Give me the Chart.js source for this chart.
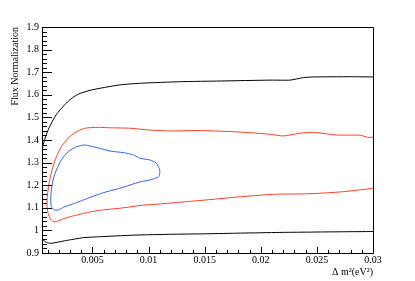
<!DOCTYPE html>
<html>
<head>
<meta charset="utf-8">
<script src="https://cdn.jsdelivr.net/npm/chart.js@4.4.0/dist/chart.umd.min.js"></script>
<style>
    html, body { margin: 0; padding: 0; background: #fff; }
    #wrap { width: 415px; height: 281px; }
</style>
</head>
<body>
<div id="wrap"><canvas id="fluxChart" width="415" height="281"></canvas></div>
<script>
/* Axis ticks */
const xTicks = [0.005, 0.01, 0.015, 0.02, 0.025, 0.03]
const xTickLabels = ['0.005', '0.01', '0.015', '0.02', '0.025', '0.03']
const yTicks = [0.9, 1, 1.1, 1.2, 1.3, 1.4, 1.5, 1.6, 1.7, 1.8, 1.9]
const yTickLabels = ['0.9', '1', '1.1', '1.2', '1.3', '1.4', '1.5', '1.6', '1.7', '1.8', '1.9']

/* Outer contour (black), upper branch right to left then lower branch */
const blackX = [0.0300, 0.0280, 0.0247, 0.0238, 0.0226, 0.0209, 0.0164, 0.01282, 0.00925, 0.00746,
    0.00568, 0.00479, 0.00389, 0.00345, 0.0030, 0.00255, 0.00211, 0.00175, 0.00148, 0.00104, 0.00068, 0.00044, 0.00014,
    0.00014, 0.00044, 0.00088, 0.00133, 0.00253, 0.00419, 0.00568, 0.00863, 0.0122, 0.0152,
    0.0182, 0.0217, 0.0273, 0.0300]
const blackY = [1.679, 1.680, 1.679, 1.676, 1.665, 1.665, 1.661, 1.658, 1.651, 1.644,
    1.629, 1.620, 1.606, 1.595, 1.579, 1.557, 1.533, 1.511, 1.488, 1.444, 1.392, 1.342, 1.289,
    0.988, 0.965, 0.947, 0.943, 0.954, 0.968, 0.972, 0.979, 0.983, 0.985,
    0.988, 0.991, 0.994, 0.995]

/* Middle contour (red) */
const redX = [0.0300, 0.0295, 0.0289, 0.0268, 0.0247, 0.0235, 0.0220, 0.0209, 0.0182, 0.0146,
    0.0119, 0.0101, 0.00836, 0.00657, 0.0055, 0.00431, 0.00342, 0.00282, 0.00222, 0.00178,
    0.00139, 0.00113, 0.00097, 0.00095, 0.00104, 0.00128, 0.00157, 0.00193, 0.00282, 0.00401,
    0.0055, 0.00776, 0.00925, 0.0122, 0.0152, 0.0182, 0.0213, 0.0243, 0.0273, 0.0300]
const redY = [1.412, 1.412, 1.421, 1.422, 1.434, 1.430, 1.418, 1.425, 1.435, 1.442,
    1.440, 1.444, 1.452, 1.454, 1.456, 1.452, 1.432, 1.408, 1.370, 1.326,
    1.267, 1.208, 1.149, 1.105, 1.076, 1.049, 1.038, 1.042, 1.058, 1.073,
    1.088, 1.100, 1.110, 1.122, 1.135, 1.149, 1.160, 1.162, 1.171, 1.186]

/* Inner contour (blue), closed */
const blueX = [0.00163, 0.00133, 0.00128, 0.00133, 0.00148, 0.00178, 0.00222, 0.00282, 0.00356, 0.00431,
    0.00479, 0.00568, 0.00657, 0.00776, 0.00865, 0.00925, 0.0101, 0.0107, 0.0110, 0.0109,
    0.0101, 0.00925, 0.00836, 0.00717, 0.00597, 0.00479, 0.00342, 0.00253, 0.00193, 0.00163]
const blueY = [1.090, 1.105, 1.135, 1.179, 1.223, 1.267, 1.312, 1.348, 1.370, 1.378,
    1.373, 1.363, 1.351, 1.344, 1.334, 1.319, 1.312, 1.297, 1.267, 1.238,
    1.223, 1.215, 1.201, 1.183, 1.167, 1.146, 1.120, 1.105, 1.090, 1.090]

const toPoints = (xs, ys) => xs.map((x, i) => ({ x: x, y: ys[i] }))

const contour = (xs, ys, color) => ({
    data: toPoints(xs, ys),
    showLine: true,
    borderColor: color,
    borderWidth: 1,
    pointRadius: 0,
    tension: 0.2,
    clip: 0
})

/* ROOT style frame: box plus ticks pointing inside */
const rootFrame = {
    id: 'rootFrame',
    afterDatasetsDraw(chart) {
        const { ctx, chartArea: a, scales: { x, y } } = chart
        ctx.save()
        ctx.strokeStyle = '#000'
        ctx.lineWidth = 1
        ctx.beginPath()
        for (let i = 1; i <= 30; i++) {
            const v = i * 0.001
            if (v < x.min) continue
            const px = Math.round(x.getPixelForValue(v)) + 0.5
            const len = i % 5 == 0 ? 6 : 3
            ctx.moveTo(px, a.bottom)
            ctx.lineTo(px, a.bottom - len)
        }
        for (let i = 45; i <= 95; i++) {
            const py = Math.round(y.getPixelForValue(i * 0.02)) + 0.5
            const len = i % 5 == 0 ? 10 : 5
            ctx.moveTo(a.left, py)
            ctx.lineTo(a.left + len, py)
        }
        const l = a.left + 0.5, r = a.right + 0.5, t = a.top + 0.5, b = a.bottom + 0.5
        ctx.moveTo(l, t); ctx.lineTo(r, t); ctx.lineTo(r, b); ctx.lineTo(l, b); ctx.closePath()
        ctx.stroke()
        ctx.restore()
    }
}

const serif = { family: "'Liberation Serif', 'DejaVu Serif', serif", size: 10 }

new Chart(document.getElementById('fluxChart'), {
    type: 'scatter',
    data: {
        datasets: [
            contour(blackX, blackY, '#000000'),
            contour(redX, redY, '#ff3d24'),
            contour(blueX, blueY, '#3060ff')
        ]
    },
    options: {
        responsive: false,
        animation: false,
        devicePixelRatio: 1,
        layout: { padding: { top: 27, right: 42, left: 0, bottom: 0 } },
        plugins: {
            legend: { display: false },
            tooltip: { enabled: false }
        },
        scales: {
            x: {
                type: 'linear',
                min: 0.0005,
                max: 0.03,
                grid: { display: false, drawTicks: false },
                border: { display: false },
                afterBuildTicks: scale => { scale.ticks = xTicks.map(v => ({ value: v })) },
                afterFit: scale => { scale.height = 28 },
                ticks: {
                    autoSkip: false,
                    maxRotation: 0,
                    padding: 1,
                    color: '#000',
                    font: serif,
                    callback: (v, i) => xTickLabels[i]
                },
                title: {
                    display: true,
                    text: 'Δ m²(eV²)',
                    align: 'end',
                    color: '#000',
                    font: serif,
                    padding: { top: 0, bottom: 3 }
                }
            },
            y: {
                type: 'linear',
                min: 0.9,
                max: 1.9,
                grid: { display: false, drawTicks: false },
                border: { display: false },
                afterBuildTicks: scale => { scale.ticks = yTicks.map(v => ({ value: v })) },
                afterFit: scale => { scale.width = 42 },
                ticks: {
                    autoSkip: false,
                    padding: 3,
                    color: '#000',
                    font: serif,
                    callback: (v, i) => yTickLabels[i]
                },
                title: {
                    display: true,
                    text: 'Flux Normalization',
                    align: 'end',
                    color: '#000',
                    font: serif,
                    padding: { top: 9, bottom: 0 }
                }
            }
        }
    },
    plugins: [rootFrame]
})
</script>
</body>
</html>
